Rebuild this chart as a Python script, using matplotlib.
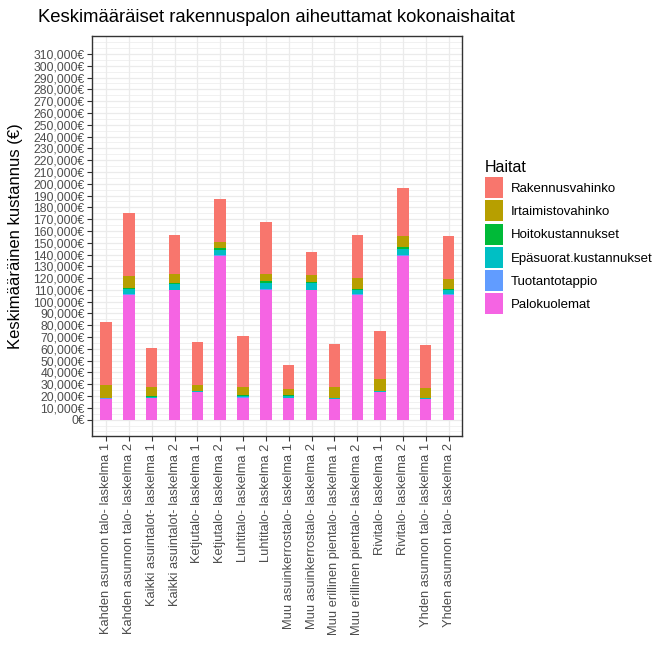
import matplotlib
matplotlib.use("Agg")
import matplotlib.pyplot as plt
from matplotlib.patches import Patch
from matplotlib.ticker import FuncFormatter, MultipleLocator
import numpy as np

plt.rcParams['font.family'] = ['Liberation Sans', 'DejaVu Sans']

categories = [
    "Kahden asunnon talo- laskelma 1", "Kahden asunnon talo- laskelma 2",
    "Kaikki asuintalot- laskelma 1", "Kaikki asuintalot- laskelma 2",
    "Ketjutalo- laskelma 1", "Ketjutalo- laskelma 2",
    "Luhtitalo- laskelma 1", "Luhtitalo- laskelma 2",
    "Muu asuinkerrostalo- laskelma 1", "Muu asuinkerrostalo- laskelma 2",
    "Muu erillinen pientalo- laskelma 1", "Muu erillinen pientalo- laskelma 2",
    "Rivitalo- laskelma 1", "Rivitalo- laskelma 2",
    "Yhden asunnon talo- laskelma 1", "Yhden asunnon talo- laskelma 2",
]

# values in euros, bottom of stack first
palokuolemat = [17500, 105500, 18000, 109500, 23500, 139000, 18500, 109500,
                18000, 109500, 17500, 105500, 23500, 138500, 17500, 105500]
tuotantotappio = [500, 1000, 400, 700, 300, 1000, 500, 1000,
                  400, 700, 300, 700, 300, 1000, 300, 700]
epasuorat = [300, 4000, 500, 4500, 500, 4000, 800, 5000,
             2000, 5500, 300, 4000, 500, 5000, 300, 3500]
hoito = [200, 1000, 800, 1000, 300, 1500, 1000, 2000,
         500, 800, 200, 800, 200, 1500, 200, 800]
irtaimisto = [10500, 10500, 8000, 7600, 4500, 5000, 6500, 6000,
              5500, 6000, 9500, 8800, 10000, 9500, 8500, 8500]
rakennus = [53500, 53500, 33000, 33000, 36500, 36500, 44000, 44000,
            20300, 20000, 36500, 36500, 40500, 41000, 36200, 36500]

y_breaks = list(range(0, 310001, 10000))

series = [
    ("Palokuolemat", palokuolemat, "#F564E3"),
    ("Tuotantotappio", tuotantotappio, "#619CFF"),
    ("Epäsuorat.kustannukset", epasuorat, "#00BFC4"),
    ("Hoitokustannukset", hoito, "#00BA38"),
    ("Irtaimistovahinko", irtaimisto, "#B79F00"),
    ("Rakennusvahinko", rakennus, "#F8766D"),
]

fig = plt.figure(figsize=(6.68, 6.67), dpi=100)
ax = fig.add_axes([92.3 / 668, 1 - 435.7 / 667, 370 / 668, 400 / 667])

x = np.arange(len(categories))
bottom = np.zeros(len(categories))
for name, vals, col in series:
    ax.bar(x, vals, width=0.5, bottom=bottom, color=col, zorder=3, linewidth=0)
    bottom += np.array(vals)

ax.set_xlim(-0.6, len(categories) - 0.4)
ax.set_ylim(-13600, 325500)
ax.set_yticks(y_breaks)
ax.yaxis.set_minor_locator(MultipleLocator(5000))
ax.yaxis.set_major_formatter(FuncFormatter(lambda v, p: f"{v:,.0f}€"))
ax.set_xticks(x)
ax.set_xticklabels(categories, rotation=90, fontsize=9.3, color="#4D4D4D")
ax.tick_params(axis='y', labelsize=8.7, labelcolor="#4D4D4D")
ax.tick_params(which='major', length=3.5, width=0.8, color="#333333", pad=2)
ax.tick_params(which='minor', length=0)

ax.grid(which='major', color="#EBEBEB", linewidth=0.9, zorder=0)
ax.grid(which='minor', axis='y', color="#EBEBEB", linewidth=0.5, zorder=0)
ax.set_axisbelow(True)
for s in ax.spines.values():
    s.set_color("#333333")
    s.set_linewidth(1.0)

ax.set_ylabel("Keskimääräinen kustannus (€)", fontsize=12)
ax.yaxis.set_label_coords(-0.186, 0.5)

fig.text(38 / 668, 1 - 17 / 667, "Keskimääräiset rakennuspalon aiheuttamat kokonaishaitat",
         fontsize=13.3, va='center', ha='left')

handles = [Patch(facecolor=col, edgecolor='none', label=name) for name, _, col in reversed(series)]
leg = fig.legend(handles=handles, title="Haitat", loc='upper left',
                 bbox_to_anchor=(485 / 668, 1 - 160 / 667), frameon=False,
                 fontsize=9.5, title_fontsize=11.5, handlelength=1.36, handleheight=2.07,
                 labelspacing=0.17, handletextpad=0.6, borderpad=0, borderaxespad=0,
                 alignment='left')

fig.savefig("out.png", dpi=100)
